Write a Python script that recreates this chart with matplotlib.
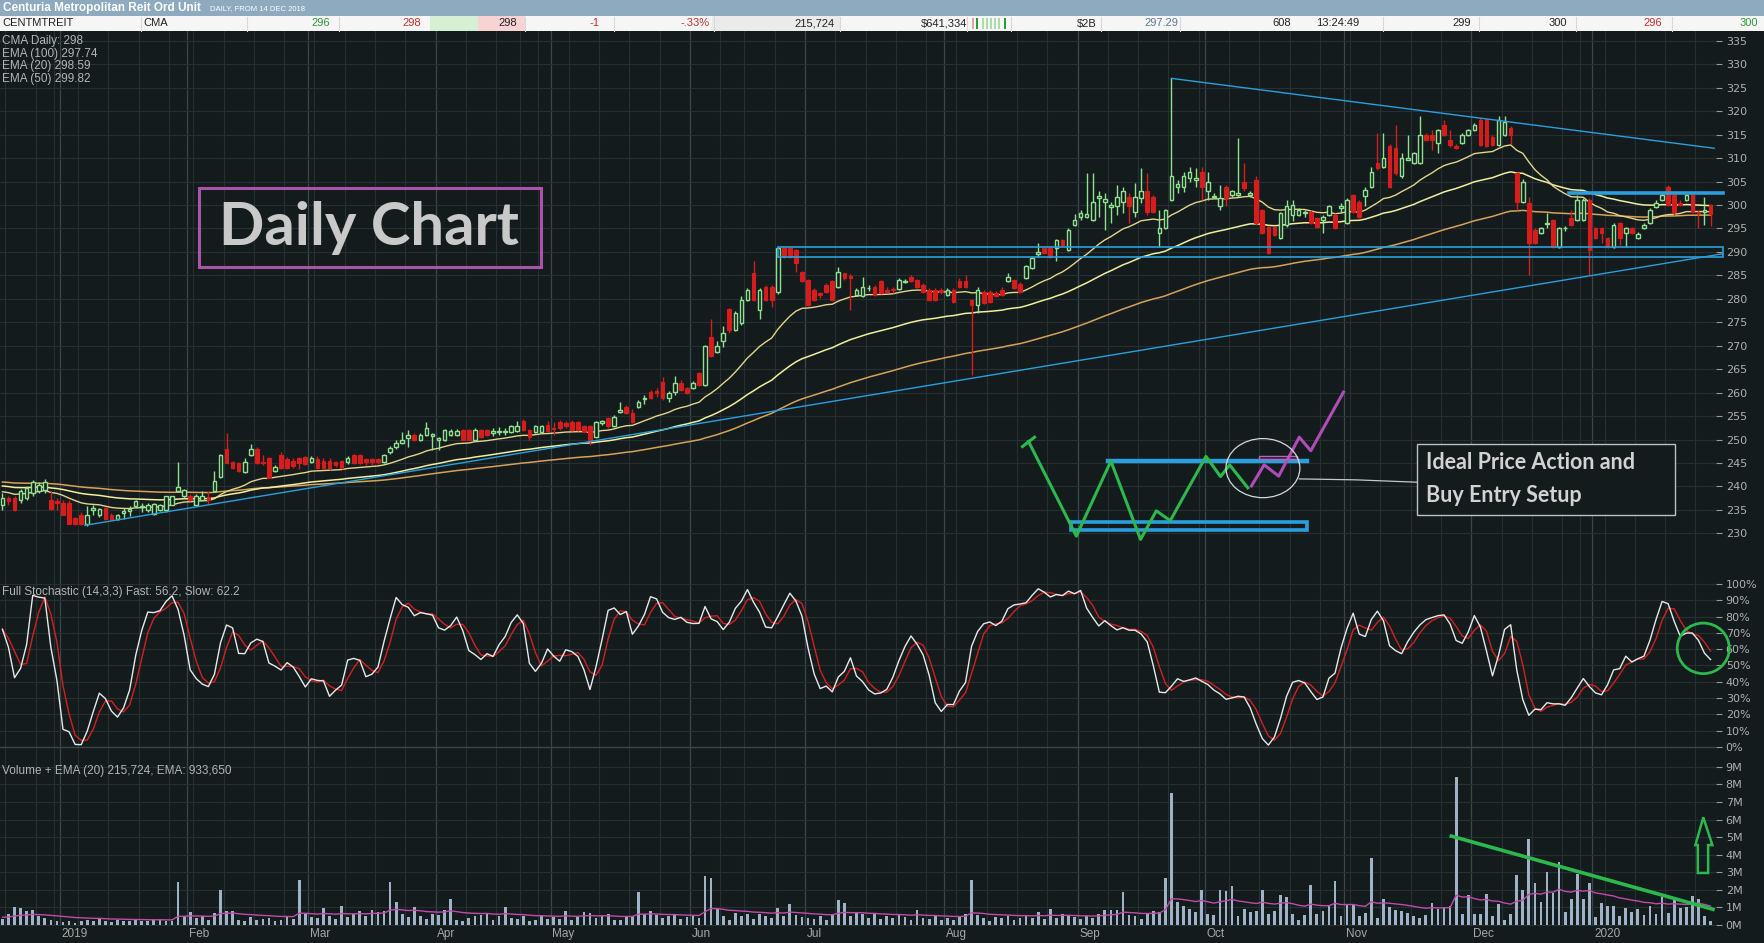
import numpy as np
import pandas as pd
import matplotlib
matplotlib.use('Agg')
import matplotlib.pyplot as plt
from matplotlib.patches import Rectangle, Ellipse, Polygon
import matplotlib.transforms as mtransforms

# ---- data (CMA daily, from 14 Dec 2018) ----
holidays = ['2018-12-25', '2018-12-26', '2019-01-01', '2019-01-28', '2019-04-19',
            '2019-04-22', '2019-04-25', '2019-06-10', '2019-12-25', '2019-12-26',
            '2020-01-01', '2020-01-27']

opens = [
    236.1, 237.5, 237.5, 237.2, 237.5, 238.5, 239.0, 239.2, 237.2, 236.8,
    236.5, 236.5, 233.3, 234.0, 232.0, 235.0, 234.0, 235.4, 234.0, 233.0,
    234.4, 234.8, 235.8, 235.6, 235.0, 234.1, 235.0, 235.0, 236.1, 239.0,
    237.9, 238.0, 236.1, 237.2, 237.8, 239.0, 242.0, 248.0, 245.1, 244.9,
    243.0, 246.8, 247.9, 245.2, 246.1, 243.2, 246.8, 245.8, 245.4, 246.1,
    246.2, 245.3, 245.8, 245.4, 245.4, 245.2, 245.4, 245.1, 246.8, 246.8,
    245.8, 245.8, 245.8, 245.2, 247.3, 248.5, 249.3, 250.3, 251.0, 249.9,
    251.0, 250.8, 250.0, 249.9, 251.0, 251.0, 252.1, 252.1, 249.9, 252.1,
    252.1, 251.4, 251.6, 251.6, 251.6, 251.9, 254.0, 252.1, 251.7, 251.7,
    253.0, 252.5, 253.8, 253.6, 253.8, 253.8, 252.8, 252.9, 250.6, 253.6,
    254.5, 252.8, 255.9, 257.0, 255.6, 257.0, 258.6, 260.2, 260.3, 262.3,
    258.9, 260.2, 262.0, 261.0, 261.0, 264.1, 261.6, 271.9, 268.7, 270.9,
    277.8, 273.4, 274.8, 279.8, 285.5, 277.6, 282.6, 282.6, 281.5, 290.8,
    290.8, 290.4, 285.8, 284.0, 281.9, 281.2, 283.0, 283.7, 282.6, 285.4,
    284.8, 280.8, 280.5, 282.2, 282.6, 283.7, 281.8, 282.0, 282.0, 283.6,
    284.7, 284.0, 283.0, 281.9, 281.9, 281.8, 280.8, 281.9, 283.7, 283.7,
    279.8, 278.7, 281.5, 281.5, 281.2, 281.9, 283.7, 284.0, 283.2, 284.4,
    286.5, 289.5, 290.8, 290.8, 290.8, 292.5, 290.4, 295.8, 297.5, 297.5,
    296.8, 301.5, 300.6, 299.5, 299.7, 300.7, 301.8, 298.6, 301.4, 302.9,
    301.8, 294.0, 295.0, 301.1, 303.9, 303.9, 305.7, 305.4, 307.1, 302.9,
    301.7, 299.7, 303.9, 302.1, 302.1, 305.0, 302.1, 305.4, 298.9, 295.4,
    295.4, 292.9, 295.7, 297.9, 297.9, 298.2, 298.6, 297.2, 296.8, 297.9,
    297.9, 299.3, 296.1, 302.1, 300.7, 302.0, 303.9, 308.9, 308.2, 312.5,
    312.1, 306.1, 309.7, 309.0, 309.0, 315.0, 315.0, 313.2, 317.1, 313.9,
    312.5, 313.2, 315.0, 316.0, 318.1, 318.1, 314.6, 312.8, 314.9, 316.4,
    306.8, 300.7, 300.4, 294.7, 294.0, 295.9, 296.8, 291.1, 295.0, 297.2,
    296.8, 296.8, 301.1, 295.0, 295.0, 292.9, 291.1, 296.1, 294.0, 295.0,
    292.9, 295.0, 296.1, 299.5, 301.1, 303.9, 302.1, 300.5, 301.1, 302.1,
    298.6, 298.6, 300.0]

highs = [
    238.6, 238.0, 238.0, 239.5, 240.0, 241.3, 241.0, 241.5, 239.0, 237.5,
    237.0, 237.0, 233.5, 234.5, 235.8, 236.1, 235.5, 235.6, 234.3, 234.2,
    235.4, 235.8, 237.0, 236.4, 236.5, 236.5, 236.3, 238.0, 238.0, 245.3,
    239.5, 238.3, 238.3, 239.0, 239.1, 243.2, 247.0, 251.4, 245.5, 245.3,
    246.0, 249.1, 248.3, 246.8, 246.3, 244.5, 247.4, 246.3, 246.0, 246.3,
    246.5, 246.4, 246.5, 246.0, 246.0, 245.5, 245.6, 246.4, 247.0, 247.0,
    246.1, 246.1, 246.1, 247.0, 248.6, 250.0, 251.5, 252.1, 251.3, 251.3,
    253.8, 251.3, 250.6, 252.3, 252.2, 252.2, 252.3, 252.3, 252.4, 252.3,
    252.3, 252.5, 252.6, 252.5, 253.2, 254.0, 254.3, 252.3, 253.0, 253.0,
    254.0, 253.8, 254.1, 253.9, 254.1, 254.0, 253.0, 253.1, 254.0, 254.2,
    254.7, 255.2, 258.1, 257.3, 256.4, 258.5, 259.5, 260.5, 261.0, 263.3,
    260.3, 263.5, 262.7, 261.3, 262.5, 264.4, 270.2, 275.8, 270.9, 274.2,
    278.0, 277.5, 280.5, 282.3, 288.0, 282.4, 283.0, 283.0, 291.1, 291.0,
    291.0, 290.7, 286.0, 284.3, 282.2, 281.5, 283.3, 284.0, 286.8, 285.6,
    285.2, 282.2, 284.7, 283.0, 282.9, 284.0, 282.5, 282.6, 284.4, 284.3,
    285.1, 284.3, 283.3, 282.2, 282.2, 282.2, 282.2, 282.2, 284.5, 285.1,
    280.0, 282.6, 281.8, 281.8, 281.6, 282.5, 285.5, 284.3, 283.6, 287.2,
    288.9, 291.8, 291.0, 291.0, 292.8, 292.8, 295.0, 298.0, 299.0, 306.8,
    306.8, 302.9, 302.5, 300.7, 304.3, 303.9, 302.5, 304.6, 307.8, 306.8,
    302.2, 299.0, 299.2, 327.0, 305.3, 307.1, 308.2, 307.8, 308.2, 307.1,
    302.5, 304.3, 304.3, 303.2, 314.2, 308.9, 303.0, 306.1, 299.2, 295.6,
    295.6, 298.5, 301.1, 301.1, 299.3, 299.0, 298.9, 297.5, 297.8, 300.0,
    298.2, 300.4, 301.4, 302.4, 301.0, 303.9, 308.2, 315.3, 315.3, 313.0,
    317.0, 311.0, 315.0, 311.3, 318.9, 315.3, 316.0, 316.3, 318.1, 316.0,
    313.0, 315.3, 316.3, 317.4, 318.5, 318.5, 315.0, 319.0, 319.0, 316.8,
    307.0, 305.5, 301.8, 295.0, 295.3, 298.2, 297.0, 295.3, 295.6, 299.0,
    302.1, 301.5, 301.4, 295.3, 295.3, 293.2, 296.1, 296.3, 295.3, 295.3,
    294.2, 296.1, 299.3, 301.0, 302.8, 304.3, 302.4, 301.0, 302.4, 302.6,
    299.0, 301.8, 300.3]

lows = [
    235.0, 236.0, 234.8, 236.5, 237.0, 238.0, 238.5, 238.5, 235.0, 235.0,
    233.8, 232.0, 231.8, 231.8, 231.5, 234.0, 233.5, 232.9, 232.9, 232.9,
    233.0, 233.7, 235.5, 234.5, 234.6, 234.0, 234.8, 234.5, 236.0, 238.8,
    237.5, 236.8, 236.0, 237.0, 236.2, 238.8, 241.8, 244.9, 243.8, 243.0,
    242.8, 246.5, 244.8, 244.5, 241.7, 243.0, 243.8, 243.8, 244.0, 243.8,
    244.5, 245.0, 243.8, 243.8, 243.6, 244.2, 243.8, 244.8, 244.8, 244.8,
    244.5, 244.6, 244.7, 245.0, 247.0, 248.0, 249.0, 248.5, 249.7, 249.7,
    250.8, 247.8, 247.8, 249.7, 250.7, 250.7, 249.8, 249.8, 249.7, 250.4,
    250.8, 250.7, 250.9, 250.9, 251.3, 251.5, 251.9, 249.8, 251.3, 251.3,
    251.5, 251.0, 252.0, 252.5, 251.9, 251.8, 251.5, 248.8, 250.4, 253.2,
    252.5, 252.6, 255.7, 255.4, 253.6, 256.8, 257.5, 258.7, 259.0, 258.5,
    258.0, 259.5, 260.4, 259.7, 260.8, 261.4, 261.4, 267.5, 268.4, 269.8,
    272.7, 273.2, 274.5, 279.5, 279.6, 275.8, 279.5, 278.3, 281.0, 288.8,
    288.8, 285.8, 283.5, 278.5, 279.6, 280.2, 281.3, 279.6, 282.4, 284.1,
    277.6, 280.5, 280.3, 281.6, 280.6, 281.0, 281.2, 281.3, 281.8, 283.3,
    283.5, 282.4, 281.3, 279.6, 279.6, 281.0, 280.5, 279.2, 282.4, 282.4,
    263.8, 276.9, 278.9, 279.2, 280.3, 280.6, 283.5, 282.1, 281.3, 284.2,
    286.3, 289.0, 289.5, 288.8, 288.0, 291.3, 290.2, 295.6, 296.8, 297.3,
    296.6, 297.5, 294.7, 296.1, 297.9, 298.2, 296.1, 297.5, 300.4, 297.9,
    298.4, 291.1, 294.8, 300.8, 302.5, 302.8, 305.0, 303.9, 301.1, 301.1,
    301.5, 299.0, 299.7, 301.8, 301.8, 302.9, 301.8, 295.8, 293.8, 289.5,
    293.4, 292.7, 295.4, 296.5, 297.7, 297.5, 295.9, 295.0, 294.0, 297.7,
    294.8, 298.5, 295.9, 298.4, 297.3, 299.7, 303.6, 307.5, 307.9, 303.6,
    306.5, 305.8, 309.5, 308.7, 308.7, 313.6, 311.7, 311.0, 314.8, 312.4,
    312.0, 313.0, 314.8, 315.8, 312.5, 312.3, 312.5, 312.5, 314.7, 313.1,
    299.0, 300.4, 285.1, 291.6, 293.8, 295.0, 290.9, 290.9, 294.5, 295.6,
    296.5, 296.5, 285.1, 292.7, 291.8, 290.9, 290.9, 291.5, 291.1, 293.8,
    292.7, 294.8, 295.9, 299.3, 300.9, 299.8, 297.9, 299.8, 300.9, 298.4,
    295.0, 295.8, 295.5]

closes = [
    237.6, 236.8, 235.0, 239.0, 239.7, 241.0, 240.4, 241.0, 235.1, 236.5,
    234.0, 232.0, 232.0, 232.0, 234.0, 235.3, 235.1, 233.0, 233.0, 234.0,
    234.7, 235.1, 236.8, 235.8, 236.0, 236.3, 236.0, 237.9, 237.9, 239.9,
    239.2, 237.2, 237.9, 238.0, 237.2, 241.1, 246.8, 245.0, 244.0, 243.2,
    245.1, 247.9, 245.0, 245.0, 241.8, 244.1, 244.0, 244.0, 244.4, 245.0,
    244.8, 246.1, 244.0, 244.0, 244.0, 244.5, 244.0, 246.1, 245.0, 245.0,
    245.2, 245.3, 245.3, 246.8, 248.2, 249.3, 250.0, 251.0, 249.9, 251.0,
    252.4, 251.1, 250.4, 252.0, 251.9, 251.9, 249.9, 249.9, 252.1, 250.6,
    251.0, 251.8, 251.9, 251.9, 252.8, 252.9, 252.1, 250.6, 252.8, 252.8,
    251.8, 252.2, 252.4, 252.8, 252.1, 252.0, 251.7, 249.6, 253.8, 253.9,
    252.8, 254.9, 256.3, 255.6, 253.8, 258.1, 258.9, 258.9, 260.0, 258.9,
    259.9, 262.0, 260.6, 259.9, 262.0, 261.6, 269.9, 267.7, 269.9, 272.8,
    273.4, 276.9, 279.8, 281.9, 279.8, 281.9, 279.8, 279.8, 290.8, 289.0,
    289.0, 287.6, 283.7, 278.7, 279.8, 280.8, 281.5, 279.8, 285.8, 284.4,
    284.5, 281.9, 282.6, 282.4, 280.8, 281.2, 281.5, 281.9, 284.0, 283.9,
    283.7, 282.6, 281.5, 279.8, 279.8, 281.4, 281.9, 279.4, 282.6, 282.6,
    278.7, 281.9, 279.1, 279.4, 280.5, 280.8, 284.7, 282.3, 281.5, 286.9,
    288.6, 290.0, 289.7, 289.0, 292.5, 291.5, 294.7, 296.8, 298.4, 298.0,
    300.7, 302.0, 301.2, 300.0, 301.8, 302.9, 299.7, 301.8, 302.9, 298.6,
    298.6, 295.0, 298.9, 306.1, 304.4, 306.1, 307.1, 305.7, 303.9, 305.0,
    302.0, 301.4, 301.4, 302.9, 302.5, 303.6, 302.6, 296.1, 294.0, 289.7,
    293.6, 298.2, 299.7, 300.0, 299.0, 298.6, 296.1, 295.4, 297.5, 299.7,
    295.0, 299.7, 301.1, 298.6, 297.5, 303.2, 307.1, 307.8, 310.0, 303.9,
    306.8, 310.0, 310.0, 311.0, 315.0, 313.9, 313.9, 316.0, 315.0, 312.8,
    312.2, 315.0, 316.0, 317.1, 312.8, 312.5, 312.8, 318.1, 317.8, 314.9,
    300.7, 305.0, 291.8, 291.8, 295.0, 296.1, 291.1, 295.0, 295.2, 295.8,
    301.1, 301.1, 290.4, 292.9, 294.0, 291.1, 295.8, 292.9, 295.0, 294.0,
    293.9, 295.8, 299.0, 300.4, 302.1, 300.0, 298.6, 300.1, 302.1, 298.6,
    298.4, 299.0, 298.0]

# volume in millions of units
volumes = [
    0.35, 0.6, 1.0, 0.95, 0.8, 0.85, 0.5, 0.4, 0.3, 0.25,
    0.15, 0.2, 0.1, 0.25, 0.3, 0.2, 0.35, 0.2, 0.15, 0.3,
    0.25, 0.2, 0.3, 0.25, 0.2, 0.3, 0.35, 0.2, 0.25, 2.46,
    0.5, 0.75, 0.4, 0.5, 0.3, 0.7, 2.0, 0.8, 0.8, 0.3,
    0.25, 0.45, 0.3, 0.35, 0.4, 0.25, 0.3, 0.5, 0.35, 2.56,
    0.6, 0.45, 0.4, 0.95, 0.5, 0.35, 1.08, 0.45, 0.6, 0.8,
    0.5, 0.85, 0.75, 0.8, 2.44, 1.3, 0.6, 0.45, 1.0, 0.5,
    0.35, 0.6, 0.55, 0.85, 1.46, 0.3, 0.2, 0.4, 0.5, 0.55,
    0.7, 0.3, 0.5, 1.0, 0.4, 0.35, 0.5, 0.25, 0.3, 0.5,
    0.35, 0.45, 0.35, 0.8, 0.3, 0.45, 0.72, 0.7, 0.4, 0.5,
    0.6, 0.3, 0.3, 0.45, 0.5, 1.86, 0.6, 0.8, 0.55, 0.4,
    0.5, 0.6, 0.35, 0.45, 0.5, 0.4, 2.8, 2.65, 0.9, 0.5,
    0.3, 0.7, 0.5, 0.6, 0.35, 0.6, 0.5, 0.4, 0.95, 0.5,
    1.2, 0.55, 0.45, 0.4, 0.35, 0.5, 0.3, 0.55, 1.4, 1.27,
    0.5, 0.7, 0.65, 0.4, 0.6, 0.35, 0.5, 0.4, 0.55, 0.45,
    0.3, 0.85, 0.4, 0.35, 0.5, 0.3, 0.4, 0.3, 0.45, 0.6,
    2.56, 0.55, 0.4, 0.2, 0.45, 0.4, 0.5, 0.3, 0.4, 0.55,
    0.4, 0.75, 0.35, 0.9, 0.4, 0.6, 0.55, 0.45, 0.35, 0.5,
    0.4, 0.6, 0.85, 0.85, 0.85, 1.9, 0.55, 0.5, 0.35, 0.6,
    0.8, 0.75, 2.7, 7.5, 1.3, 1.1, 0.9, 0.75, 2.0, 0.6,
    0.55, 2.0, 1.95, 2.2, 0.5, 0.9, 0.75, 0.8, 2.0, 0.6,
    0.8, 1.7, 1.6, 0.6, 0.3, 0.55, 2.3, 0.6, 0.8, 1.1,
    2.5, 0.5, 1.2, 1.15, 0.5, 0.7, 3.8, 0.4, 1.5, 1.0,
    0.85, 0.8, 0.7, 0.5, 0.4, 0.55, 1.25, 0.9, 1.0, 1.1,
    8.4, 0.6, 1.7, 0.6, 0.65, 1.75, 0.5, 1.2, 0.3, 0.6,
    2.85, 2.0, 4.9, 2.4, 1.3, 3.0, 1.8, 3.6, 0.75, 1.5,
    2.9, 1.5, 2.4, 0.45, 1.27, 1.1, 1.08, 0.5, 0.95, 0.75,
    0.9, 0.55, 1.1, 0.6, 1.57, 0.7, 1.4, 0.95, 1.0, 1.65,
    1.46, 0.5, 0.22]

# starting values of the averages at the left edge (history before the window)
ema_seeds = {20: 239.0, 50: 240.2, 100: 241.0}
vol_ema_seed = 0.45

legend_lines = ['CMA Daily: 298', 'EMA (100) 297.74', 'EMA (20) 298.59', 'EMA (50) 299.82']
stoch_label = 'Full Stochastic (14,3,3) Fast: 56.2, Slow: 62.2'
volume_label = 'Volume + EMA (20) 215,724, EMA: 933,650'

# ---- derived series ----
o = np.array(opens); h = np.array(highs); l = np.array(lows); c = np.array(closes)
vol = np.array(volumes)
n = len(c)
x = np.arange(n)
dates = pd.bdate_range('2018-12-14', periods=n, freq='C', holidays=holidays)


def ema(vals, span, seed):
    a = 2.0 / (span + 1)
    out, e = [], seed
    for v in vals:
        e = e + a * (v - e)
        out.append(e)
    return np.array(out)


ema20 = ema(c, 20, ema_seeds[20])
ema50 = ema(c, 50, ema_seeds[50])
ema100 = ema(c, 100, ema_seeds[100])
vol_ema = ema(vol, 20, vol_ema_seed)

hh = pd.Series(h).rolling(14, min_periods=1).max()
ll = pd.Series(l).rolling(14, min_periods=1).min()
raw_k = 100 * (pd.Series(c) - ll) / (hh - ll)
fast = raw_k.rolling(3, min_periods=1).mean()
slow = fast.rolling(3, min_periods=1).mean()

# ---- figure ----
W, H = 1764, 943
BG = '#131b1d'
GRID = '#263033'
GRID_MONTH = '#3a4649'
GREEN = '#8fe08f'
RED = '#d81c1c'
BLUE = '#2b9fdc'
TXT = '#b4b4b4'
NARROW = ['Liberation Sans Narrow', 'Liberation Sans', 'DejaVu Sans']
BOLD = ['Lato', 'DejaVu Sans']

fig = plt.figure(figsize=(W / 100, H / 100), dpi=100, facecolor=BG)


def rect(x0, y0, x1, y1):
    return [x0 / W, 1 - y1 / H, (x1 - x0) / W, (y1 - y0) / H]


def ftext(px_x, px_y, s, **kw):
    fig.text(px_x / W, 1 - px_y / H, s, **kw)


ax_p = fig.add_axes(rect(0, 31, 1716, 576))
ax_s = fig.add_axes(rect(0, 576, 1716, 752), sharex=ax_p)
ax_v = fig.add_axes(rect(0, 752, 1716, 926), sharex=ax_p)

month_starts = [i for i in range(1, n) if dates[i].month != dates[i - 1].month]
week_starts = [i for i in range(1, n) if dates[i].weekday() < dates[i - 1].weekday()]

for ax in (ax_p, ax_s, ax_v):
    ax.set_facecolor(BG)
    for s in ax.spines.values():
        s.set_visible(False)
    ax.yaxis.tick_right()
    ax.tick_params(axis='y', colors='#9a9a9a', labelsize=8, length=4, pad=3,
                   labelcolor='#b0b0b0')
    ax.tick_params(axis='x', bottom=False, labelbottom=False)
    for w in week_starts:
        ax.axvline(w - 0.5, color=GRID, lw=0.8, zorder=0)
    for m in month_starts:
        ax.axvline(m - 0.5, color=GRID_MONTH, lw=0.9, zorder=0)
ax_p.set_xlim(-0.4, 282.9)

# price pane
ax_p.set_ylim(220.9, 337.1)
pt = np.arange(230, 336, 5)
ax_p.set_yticks(pt)
ax_p.set_yticklabels([str(v) for v in pt])
for v in pt:
    ax_p.axhline(v, color=GRID, lw=0.8, zorder=0)

up = c >= o
dn = ~up
body_lo = np.minimum(o, c)
body_h = np.maximum(np.abs(c - o), 0.15)
ax_p.vlines(x[up], l[up], h[up], color=GREEN, lw=1, zorder=3)
ax_p.vlines(x[dn], l[dn], h[dn], color=RED, lw=1, zorder=3)
ax_p.bar(x[up], body_h[up], 0.6, bottom=body_lo[up], facecolor=BG, edgecolor=GREEN,
         lw=1, zorder=4)
ax_p.bar(x[dn], body_h[dn], 0.6, bottom=body_lo[dn], facecolor=RED, edgecolor=RED,
         lw=0.8, zorder=4)

ax_p.plot(x, ema100, color='#d6a25a', lw=1.1, zorder=2)
ax_p.plot(x, ema50, color='#f2ee9e', lw=1.1, zorder=2)
ax_p.plot(x, ema20, color='#e3d58a', lw=1.0, zorder=2)

# drawn trend lines and zones
ax_p.plot([13.6, 284], [231.7, 289.6], color=BLUE, lw=1, zorder=5, clip_on=False)
ax_p.plot([193, 282.6], [327.0, 312.1], color=BLUE, lw=1, zorder=5)
ax_p.add_patch(Rectangle((128, 288.9), 156, 2.2, fill=False, edgecolor=BLUE, lw=1.2,
                         zorder=5, clip_on=False))
ax_p.plot([258.6, 284], [302.6, 302.6], color=BLUE, lw=2.6, zorder=5, clip_on=False)

# "Daily Chart" label
ax_p.add_patch(Rectangle((32.4, 286.8), 56.5, 16.8, fill=False, edgecolor='#a855a8',
                         lw=2.2, zorder=6))
ax_p.text(60.6, 291.4, 'Daily Chart', family=BOLD, weight='bold', size=43,
          color='#c9c9c9', ha='center', va='baseline', zorder=6)

# ideal set-up sketch
ax_p.plot([168.4, 170.4], [248.5, 250.5], color='#2db84d', lw=2.2, zorder=6)
ax_p.plot([169.4, 177.3, 183.0, 187.9, 190.5, 192.8, 198.7, 201.1, 202.6, 205.6],
          [249.6, 229.4, 245.4, 228.7, 234.8, 232.7, 246.4, 242.1, 244.6, 239.7],
          color='#2db84d', lw=2.2, zorder=6)
ax_p.plot([206.2, 208.3, 210.7, 214.1, 216.0, 221.4],
          [240.1, 244.6, 242.2, 250.5, 247.6, 260.1], color='#b04cb8', lw=2.2, zorder=6)
ax_p.plot([182.5, 215.4], [245.4, 245.4], color=BLUE, lw=3.2, zorder=5)
ax_p.add_patch(Rectangle((176.4, 230.7), 39.0, 1.8, fill=False, edgecolor=BLUE,
                         lw=2.6, zorder=5))
ax_p.add_patch(Rectangle((207.4, 245.9), 6.4, 0.6, fill=False, edgecolor='#c060b8',
                         lw=1, zorder=6))
ax_p.add_patch(Ellipse((208.1, 243.9), 12.2, 12.6, fill=False, edgecolor='#d8d8d8',
                       lw=0.9, zorder=6))
ax_p.plot([214.1, 223.5, 233.5], [241.6, 241.4, 240.9], color='#c8c8c8', lw=0.9,
          zorder=6)
ax_p.add_patch(Rectangle((233.5, 233.8), 42.6, 15.2, facecolor=BG, edgecolor='#c0c0c0',
                         lw=1, zorder=6))
ax_p.text(235.0, 245.1, 'Ideal Price Action and', family=BOLD, weight='bold', size=15.5,
          color='#d2d2d2', ha='left', va='center', zorder=7)
ax_p.text(235.0, 238.0, 'Buy Entry Setup', family=BOLD, weight='bold', size=15.5,
          color='#d2d2d2', ha='left', va='center', zorder=7)

# stochastic pane
ax_s.set_ylim(-3.1, 104.9)
st = np.arange(0, 101, 10)
ax_s.set_yticks(st)
ax_s.set_yticklabels([f'{v}%' for v in st])
for v in st:
    ax_s.axhline(v, color=GRID, lw=0.8, zorder=0)
ax_s.axhline(0, color='#3c4649', lw=1, zorder=0)
ax_s.plot(x, slow, color='#d42020', lw=1, zorder=3)
ax_s.plot(x, fast, color='#e8e8e8', lw=1, zorder=4)
ax_s.add_patch(Ellipse((280.8, 60.5), 8.6, 31.0, fill=False, edgecolor='#2db84d',
                       lw=2, zorder=6, clip_on=False))

# volume pane
ax_v.set_ylim(-0.06, 9.85)
vt = np.arange(0, 10)
ax_v.set_yticks(vt)
ax_v.set_yticklabels([f'{v}M' for v in vt])
for v in vt:
    ax_v.axhline(v, color=GRID, lw=0.8, zorder=0)
ax_v.bar(x, vol, 0.45, color='#9fb2c6', zorder=2)
ax_v.plot(x, vol_ema, color='#c24aa8', lw=1, zorder=3)
ax_v.plot([239.2, 282.4], [5.06, 0.89], color='#2db84d', lw=2.6, zorder=5)
ax_v.add_patch(Polygon([(280.8, 6.13), (282.3, 4.55), (281.6, 4.55), (281.6, 2.96),
                        (279.9, 2.96), (279.9, 4.55), (279.5, 4.55)], closed=True,
                       fill=False, edgecolor='#2db84d', lw=1.8, zorder=6, clip_on=False))

# date labels under the volume pane
trans = mtransforms.blended_transform_factory(ax_v.transData, fig.transFigure)
for m in month_starts:
    lab = str(dates[m].year) if dates[m].month == 1 else dates[m].strftime('%b')
    ax_v.text(m - 0.2, 1 - 934 / H, lab, transform=trans, ha='left', va='center',
              size=8.5, color='#a8a8a8', family=NARROW, clip_on=False)

# pane labels
for i, s in enumerate(legend_lines):
    ftext(2, 41 + i * 12.7, s, color=TXT, size=8.5, va='center', family=NARROW)
ftext(2, 592, stoch_label, color=TXT, size=8.5, va='center', family=NARROW)
ftext(2, 771, volume_label, color=TXT, size=8.5, va='center', family=NARROW)

# ---- quote header ----
fig.add_artist(Rectangle((0, 1 - 16 / H), 1, 16 / H, transform=fig.transFigure,
                         facecolor='#8eaabf', edgecolor='none'))
fig.add_artist(Rectangle((0, 1 - 31 / H), 1, 15 / H, transform=fig.transFigure,
                         facecolor='#f6f6f6', edgecolor='none'))
for x0, x1, col in [(430, 478, '#d6f0d6'), (478, 525, '#f7d3d3'), (712, 840, '#ebebeb')]:
    fig.add_artist(Rectangle((x0 / W, 1 - 31 / H), (x1 - x0) / W, 15 / H,
                             transform=fig.transFigure, facecolor=col, edgecolor='none'))
for sx in [141, 247, 339, 525, 614, 714, 840, 967, 1011, 1101, 1180, 1383, 1479, 1576, 1672]:
    fig.add_artist(plt.Line2D([sx / W, sx / W], [1 - 31 / H, 1 - 17 / H],
                              transform=fig.transFigure, color='#d8d8d8', lw=0.8))
for bx, col in [(972, '#f0a0a0'), (976, '#2a9a3a'), (982, '#a8dca8'), (986, '#a8dca8'),
                (990, '#a8dca8'), (994, '#a8dca8'), (998, '#a8dca8'), (1004, '#2a9a3a')]:
    fig.add_artist(Rectangle((bx / W, 1 - 29 / H), 2 / W, 11 / H,
                             transform=fig.transFigure, facecolor=col, edgecolor='none'))

ftext(3, 8, 'Centuria Metropolitan Reit Ord Unit', color='white', weight='bold',
      size=8.5, va='center', family=NARROW)
ftext(210, 8.5, 'DAILY, FROM 14 DEC 2018', color='white', size=5.5, va='center',
      family=NARROW)
ftext(2, 23.5, 'CENTMTREIT', color='#222222', size=8, va='center', family=NARROW)
ftext(143, 23.5, 'CMA', color='#222222', size=8, va='center', family=NARROW)
for xe, s, col in [(330, '296', '#2f9a3a'), (421, '298', '#c03030'), (517, '298', '#222222'),
                   (599, '-1', '#c03030'), (710, '-.33%', '#c03030'),
                   (835, '215,724', '#222222'), (967, '$641,334', '#222222'),
                   (1097, '$2B', '#222222'), (1178, '297.29', '#5a7a96'),
                   (1291, '608', '#222222'), (1359, '13:24:49', '#222222'),
                   (1471, '299', '#222222'), (1567, '300', '#222222'),
                   (1662, '296', '#c03030'), (1758, '300', '#2f9a3a')]:
    ftext(xe, 23.5, s, color=col, size=8, va='center', ha='right', family=NARROW)

fig.savefig('out.png', dpi=100, facecolor=BG)
